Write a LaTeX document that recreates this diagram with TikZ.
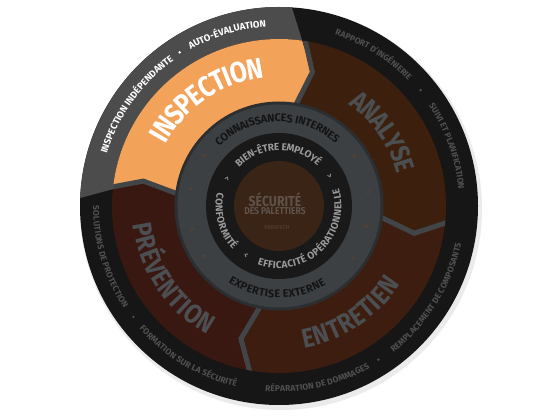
\documentclass[tikz,border=0pt]{standalone}
\usepackage{fontspec}
\setmainfont{Fira Sans}
\newfontfamily\condf{Fira Sans}[FakeStretch=0.85]
\usetikzlibrary{calc,decorations.text}
\definecolor{outerblack}{HTML}{161616}
\definecolor{outergray}{HTML}{4C4C4C}
\definecolor{orangeF}{HTML}{F3A25A}
\definecolor{analyseC}{HTML}{3C200D}
\definecolor{entretienC}{HTML}{3D1D10}
\definecolor{preventionC}{HTML}{3A1812}
\definecolor{sepC}{HTML}{414548}
\definecolor{ringedge}{HTML}{2C2F31}
\definecolor{ringgray}{HTML}{3D4043}
\definecolor{ringblack}{HTML}{19191A}
\definecolor{diskC}{HTML}{3A2415}
\definecolor{biglabel}{HTML}{4C4F52}
\definecolor{outertext}{HTML}{505050}
\definecolor{ringtext}{HTML}{141414}
\definecolor{innertext}{HTML}{9A9A9A}
\definecolor{centertext}{HTML}{5E524A}
\definecolor{centersmall}{HTML}{4E3A2C}
\definecolor{markbrown}{HTML}{5C4330}
\definecolor{markgray}{HTML}{8A8A8A}
% clockwise (top) text: center angle, radius, raise, colour, font, text
\newcommand\cwtext[6]{%
  \path[decorate, decoration={text along path, text align=center, raise=#3,
    text color=#4, text={|#5|#6}}]
    ($(C)+(#1+89:#2)$) arc[start angle=#1+89, end angle=#1-89, radius=#2];}
% counter-clockwise (bottom) text
\newcommand\ccwtext[6]{%
  \path[decorate, decoration={text along path, text align=center, raise=#3,
    text color=#4, text={|#5|#6}}]
    ($(C)+(#1-89:#2)$) arc[start angle=#1-89, end angle=#1+89, radius=#2];}
% band segment: colour, start boundary, end boundary, apex of end, apex of start
\newcommand\bandseg[5]{%
  \fill[#1] ($(C)+(#2:167pt)$) arc[start angle=#2, end angle=#3, radius=167pt]
    -- ($(C)+(#4:138pt)$) -- ($(C)+(#3:100pt)$)
    arc[start angle=#3, end angle=#2, radius=100pt]
    -- ($(C)+(#5:138pt)$) -- cycle;}
\newcommand\chev[3]{%
  \begin{scope}[shift={($(C)+(#1:#2)$)}, rotate=#1-90]
    \draw[#3, line width=0.9pt] (-1.2pt,1.8pt) -- (1.2pt,0pt) -- (-1.2pt,-1.8pt);
  \end{scope}}
\tikzset{
  sepline/.style={draw=sepC, line width=5pt, line join=miter},
}
\begin{document}
\begin{tikzpicture}[x=1pt,y=1pt]
\useasboundingbox (0,0) rectangle (556,417);
\fill[white] (0,0) rectangle (556,417);
\coordinate (C) at (279,211);
% soft shadow
\fill[black!8] ($(C)+(2pt,-3pt)$) circle (201pt);
% outer ring
\fill[outerblack] (C) circle (199pt);
\fill[outergray] ($(C)+(86.3:199pt)$) arc[start angle=86.3, end angle=177.7, radius=199pt]
  -- ($(C)+(174.2:167pt)$) arc[start angle=174.2, end angle=82, radius=167pt] -- cycle;
% band segments
\bandseg{orangeF}{174.2}{82}{76}{169.6}
\bandseg{analyseC}{82}{-4.7}{-11.4}{76}
\bandseg{entretienC}{-4.7}{-99}{-106}{-11.4}
\bandseg{preventionC}{261}{174.2}{169.6}{254}
\begin{scope}
  \clip (C) circle (167pt);
  \foreach \b/\a in {82/76, -4.7/-11.4, -99/-106, 174.2/169.6}
    \draw[sepline] ($(C)+(\b:175pt)$) -- ($(C)+(\a:138pt)$) -- ($(C)+(\b:95pt)$);
\end{scope}
% inner rings
\fill[ringedge] (C) circle (104.5pt);
\fill[ringgray] (C) circle (101.5pt);
\fill[ringblack] (C) circle (73pt);
\fill[diskC] (C) circle (45pt);
% outer ring texts
\cwtext{144.5}{183pt}{-3.3pt}{white}{\bfseries\fontsize{9.5}{10}\selectfont}{INSPECTION INDÉPENDANTE}
\cwtext{106.8}{183pt}{-3.3pt}{white}{\bfseries\fontsize{9.5}{10}\selectfont}{AUTO-ÉVALUATION}
\cwtext{58}{183pt}{-2.9pt}{outertext}{\bfseries\fontsize{8.5}{9}\selectfont}{RAPPORT D'INGÉNIERIE}
\cwtext{19.5}{183pt}{-2.9pt}{outertext}{\bfseries\fontsize{8.5}{9}\selectfont}{SUIVI ET PLANIFICATION}
\ccwtext{-31.8}{183pt}{-2.9pt}{outertext}{\bfseries\fontsize{8.5}{9}\selectfont}{REMPLACEMENT DE COMPOSANTS}
\ccwtext{282.5}{183pt}{-2.9pt}{outertext}{\bfseries\fontsize{8.5}{9}\selectfont}{RÉPARATION DE DOMMAGES}
\ccwtext{239}{183pt}{-2.9pt}{outertext}{\bfseries\fontsize{8.5}{9}\selectfont}{FORMATION SUR LA SÉCURITÉ}
\ccwtext{196.7}{183pt}{-2.9pt}{outertext}{\bfseries\fontsize{8.5}{9}\selectfont}{SOLUTIONS DE PROTECTION}
\fill[white] ($(C)+(122.9:183pt)$) circle (1.3pt);
\fill[outertext] ($(C)+(39.3:183pt)$) circle (1.3pt);
\fill[outertext] ($(C)+(-57.1:183pt)$) circle (1.3pt);
\fill[outertext] ($(C)+(217.3:183pt)$) circle (1.3pt);
% big labels
\cwtext{124}{139pt}{-10pt}{white}{\condf\bfseries\fontsize{29}{29}\selectfont}{INSPECTION}
\cwtext{35.4}{132pt}{-9.3pt}{biglabel}{\condf\bfseries\fontsize{27}{27}\selectfont}{ANALYSE}
\ccwtext{-56.3}{135pt}{-9.3pt}{biglabel}{\condf\bfseries\fontsize{27}{27}\selectfont}{ENTRETIEN}
\ccwtext{214}{138pt}{-9.3pt}{biglabel}{\condf\bfseries\fontsize{27}{27}\selectfont}{PRÉVENTION}
% gray ring texts
\cwtext{91.4}{88pt}{-3.8pt}{ringtext}{\bfseries\fontsize{11}{11}\selectfont}{CONNAISSANCES INTERNES}
\ccwtext{268.7}{88pt}{-3.8pt}{ringtext}{\bfseries\fontsize{11}{11}\selectfont}{EXPERTISE EXTERNE}
% black ring texts
\cwtext{91}{59pt}{-3.4pt}{innertext}{\bfseries\fontsize{10}{10}\selectfont}{BIEN-ÊTRE EMPLOYÉ}
\ccwtext{195.5}{60pt}{-3.4pt}{innertext}{\bfseries\fontsize{10}{10}\selectfont}{CONFORMITÉ}
\ccwtext{313}{59pt}{-3.4pt}{innertext}{\bfseries\fontsize{10}{10}\selectfont}{EFFICACITÉ OPÉRATIONNELLE}
% small chevrons
\foreach \a in {9,33.5,-13,-35,146,169,195,214} {\chev{\a}{90pt}{markbrown}}
\foreach \a in {31,152,236} {\chev{\a}{59pt}{markgray}}
% centre
\node[font=\condf\bfseries\fontsize{14.5}{14.5}\selectfont, text=centertext] (t1) at (275,217) {SÉCURITÉ};
\node[font=\condf\bfseries\fontsize{10}{10}\selectfont, text=centertext] (t2) at (275,206) {DES PALETTIERS};
\node[font=\bfseries\fontsize{5.5}{6}\selectfont, text=centersmall] (t3) at (277,189) {PARATECH};
\end{tikzpicture}
\end{document}
